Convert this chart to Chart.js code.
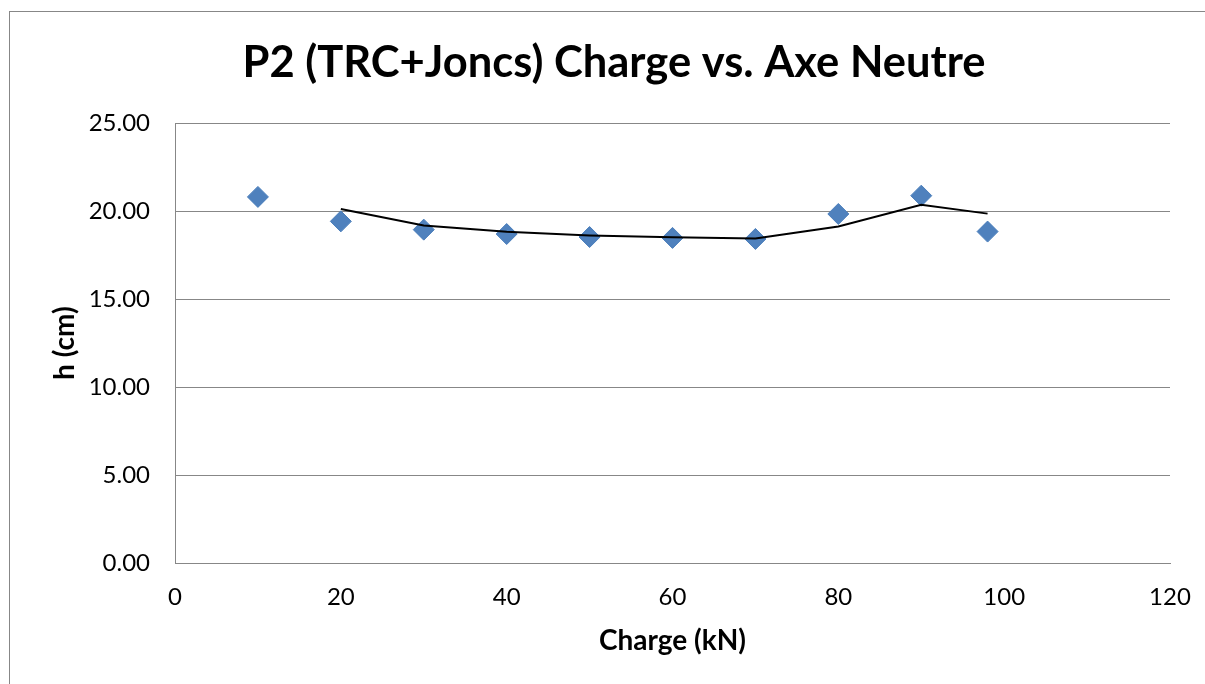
<!DOCTYPE html>
<html>
<head>
<meta charset="utf-8">
<script src="https://cdn.jsdelivr.net/npm/chart.js@4/dist/chart.umd.min.js"></script>
<style>
  html, body { margin: 0; padding: 0; background: #fff; }
  #wrap { width: 1205px; height: 684px; }
</style>
</head>
<body>
<div id="wrap"><canvas id="chart" width="1205" height="684"></canvas></div>
<script>
// measured neutral axis depth for each load step
var charge = [10, 20, 30, 40, 50, 60, 70, 80, 90, 98];
var hauteur = [20.81, 19.42, 18.95, 18.70, 18.53, 18.48, 18.42, 19.84, 20.88, 18.84];

// moving average trend (2 periods)
var trendCharge = [20, 30, 40, 50, 60, 70, 80, 90, 98];
var trendHauteur = [20.12, 19.19, 18.83, 18.62, 18.51, 18.45, 19.13, 20.36, 19.86];

var titre = 'P2 (TRC+Joncs) Charge vs. Axe Neutre';
var gris = '#878787';

function points(xs, ys) {
	var out = [];
	for (var i = 0; i < xs.length; i++) out.push({x: xs[i], y: ys[i]});
	return out;
}

// frame around the whole chart object
var cadre = {
	id: 'cadre',
	beforeDraw: function(chart) {
		var ctx = chart.ctx;
		ctx.save();
		ctx.strokeStyle = gris;
		ctx.lineWidth = 1;
		ctx.strokeRect(9.5, 11.5, 1400, 900);
		ctx.restore();
	}
};

new Chart(document.getElementById('chart'), {
	type: 'scatter',
	data: {
		datasets: [{
			label: 'h',
			data: points(charge, hauteur),
			pointStyle: 'rectRot',
			pointRadius: 10.5,
			pointHoverRadius: 10.5,
			pointBackgroundColor: '#4F81BD',
			pointBorderColor: '#4A7EBB',
			pointBorderWidth: 1,
			showLine: false,
			order: 2
		}, {
			label: 'moyenne mobile',
			data: points(trendCharge, trendHauteur),
			showLine: true,
			borderColor: '#000',
			borderWidth: 2,
			pointRadius: 0,
			tension: 0,
			order: 1
		}]
	},
	options: {
		responsive: false,
		animation: false,
		layout: { padding: { left: 58, right: 35, top: 0, bottom: 0 } },
		plugins: {
			legend: { display: false },
			tooltip: { enabled: false },
			title: {
				display: true,
				text: titre,
				color: '#000',
				font: { family: 'Lato', size: 43.5, weight: 'bold' },
				padding: { top: 37, bottom: 34 }
			}
		},
		scales: {
			x: {
				type: 'linear',
				min: 0,
				max: 120,
				ticks: {
					stepSize: 20,
					color: '#000',
					padding: 20,
					font: { family: 'Lato', size: 24 }
				},
				grid: { display: false, drawTicks: false },
				border: { display: true, color: gris },
				title: {
					display: true,
					text: 'Charge (kN)',
					color: '#000',
					font: { family: 'Lato', size: 28, weight: 'bold' },
					padding: { top: 0, bottom: 26 }
				},
				afterFit: function(s) {
					s.height = 121;
					s.paddingLeft = 0;
					s.paddingRight = 0;
				}
			},
			y: {
				min: 0,
				max: 25,
				ticks: {
					stepSize: 5,
					color: '#000',
					padding: 25,
					font: { family: 'Lato', size: 24 },
					callback: function(v) { return v.toFixed(2); }
				},
				grid: { color: gris, lineWidth: 1, drawTicks: false },
				border: { display: true, color: gris },
				title: {
					display: true,
					text: 'h (cm)',
					color: '#000',
					font: { family: 'Lato', size: 28, weight: 'bold' },
					padding: { top: -10, bottom: 0 }
				},
				afterFit: function(s) {
					s.width = 117;
					s.paddingTop = 0;
					s.paddingBottom = 0;
				}
			}
		}
	},
	plugins: [cadre]
});
</script>
</body>
</html>
